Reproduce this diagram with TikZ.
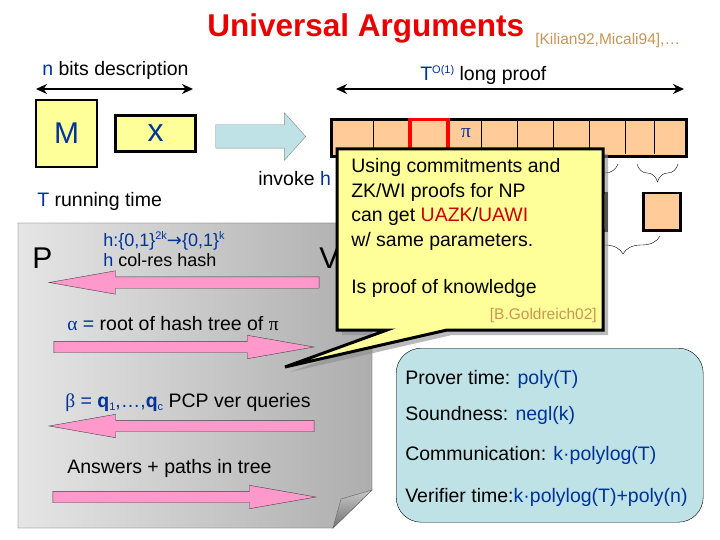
\documentclass[tikz,border=0pt]{standalone}
\usepackage{fontspec}
\setmainfont{Liberation Sans}
\newfontfamily\grkfont{Liberation Serif}
\newfontfamily\symfont{DejaVu Sans}
\usetikzlibrary{positioning, arrows.meta, shapes.arrows, decorations.pathreplacing, shadows}

\definecolor{ptblue}{RGB}{0,51,153}
\definecolor{titlered}{RGB}{235,0,0}
\definecolor{uared}{RGB}{204,0,0}
\definecolor{citeorange}{RGB}{200,150,85}
\definecolor{paleyellow}{RGB}{255,255,153}
\definecolor{prooforange}{RGB}{255,204,153}
\definecolor{paleblue}{RGB}{190,226,230}
\definecolor{arrowpink}{RGB}{255,153,204}

\newcommand{\supx}[1]{\raisebox{7pt}{\fontsize{11}{11}\selectfont #1}}
\newcommand{\subx}[1]{\raisebox{-3pt}{\fontsize{11}{11}\selectfont #1}}

\begin{document}
\begin{tikzpicture}[x=1pt, y=-1pt, >=stealth, semithick]
\tikzstyle{every node}=[font=\fontsize{19.5}{24}\selectfont, inner sep=0pt]
\tikzstyle{bluetxt}=[text=ptblue]
\tikzstyle{small}=[font=\fontsize{18}{20}\selectfont]
\tikzstyle{cite}=[text=citeorange, font=\fontsize{15.5}{16}\selectfont]
\tikzstyle{yellowbox}=[draw=black, line width=2.5pt, fill=paleyellow, text=ptblue, font=\fontsize{30}{30}\selectfont]
\tikzstyle{orangebox}=[draw=black, line width=2.5pt, fill=prooforange, minimum width=37pt, minimum height=37pt]
\tikzstyle{dimline}=[{Stealth[length=11pt,width=10pt]}-{Stealth[length=11pt,width=10pt]}, line width=2.5pt]
\tikzstyle{msg}=[single arrow, draw=black!75, thin, fill=arrowpink, single arrow tip angle=20, single arrow head extend=6pt, inner xsep=0pt, inner ysep=5.5pt]
\tikzstyle{hashbrace}=[thin, decorate, decoration={brace, mirror, amplitude=18pt}]
\tikzstyle{pagebox}=[draw=black!70, thin, left color=black!10, right color=black!32]
\tikzstyle{calloutbox}=[draw=black, line width=3pt, fill=paleyellow, drop shadow={shadow xshift=5pt, shadow yshift=-5pt, fill=black!45, opacity=.6}]

\fill[white] (0,0) rectangle (720,540);

\node[anchor=base west, text=titlered, font=\fontsize{31.5}{32}\selectfont\bfseries] (title) at (207,37) {Universal Arguments};
\node[cite, anchor=base west] (kilian) at (535,45) {[Kilian92,Micali94],…};

\node[anchor=base west] (nbits) at (42,76) {\textcolor{ptblue}{n} bits description};
\coordinate (nL) at (36,89);
\coordinate (nR) at (193,89);
\draw[dimline] (nL) -- (nR);
\node[anchor=base west] (longproof) at (420,81) {\textcolor{ptblue}{T\supx{O(1)}} long proof};
\coordinate (pL) at (336,89);
\coordinate (pR) at (684,89);
\draw[dimline] (pL) -- (pR);

\node[yellowbox, minimum width=61pt, minimum height=67pt] (M) at (66.5,133.5) {M};
\node[yellowbox, minimum width=80pt, minimum height=36pt, font=\fontsize{32}{32}\selectfont, right=16pt of M] (x) {x};
\node[single arrow, draw=black!45, thin, fill=paleblue, single arrow tip angle=96, single arrow head extend=12pt, inner xsep=0pt, inner ysep=11.5pt, minimum height=90pt, anchor=tip] (call) at (306,136.5) {};
\node[anchor=base west] (invoke) at (258,186) {invoke \textcolor{ptblue}{h}};
\node[anchor=base west] (Ttime) at (37,207) {\textcolor{ptblue}{T} running time};

\node[draw, line width=2.8pt, fill=prooforange, minimum width=355pt, minimum height=37pt, anchor=north west] (proof) at (330,118) {};
\foreach \x in {373,408,446,481,517,553,589,625,654}
  \draw[thin] (\x,119) -- (\x,154);
\node[draw=red, line width=3.5pt, minimum width=38pt, minimum height=42pt, anchor=north west] (query) at (408,118) {};
\node[bluetxt, font=\grkfont\fontsize{19.5}{24}\selectfont] (pi) at (466,133) {π};

\node[orangebox, anchor=north west] (hashA) at (568,192) {};
\node[orangebox, anchor=north west] (hashB) at (642,192) {};
\draw[hashbrace] (565,164) -- (618,164);
\draw[hashbrace] (637,164) -- (678,164);
\draw[hashbrace] (586,236) -- (660,236);

\shadedraw[pagebox] (18,223) -- (372,223) -- (372,490) -- (333,528) -- (18,528) -- cycle;
\shadedraw[draw=black!60, thin, top color=black!22, bottom color=black!55] (333,528) -- (341,499) -- (372,490) -- cycle;

\node[anchor=base west, font=\fontsize{30}{30}\selectfont] (P) at (32,268) {P};
\node[anchor=base west, font=\fontsize{30}{30}\selectfont] (V) at (319,268) {V};
\node[bluetxt, small, anchor=base west] (hashfn) at (103,247) {h:\{0,1\}\supx{2k}{\symfont →}\{0,1\}\supx{k}};
\node[small, anchor=base west] (colres) at (103,266) {\textcolor{ptblue}{h} col-res hash};
\node[msg, shape border rotate=180, minimum height=270pt, anchor=tip] (msgA) at (48,282.5) {};
\node[anchor=base west] (alpha) at (67,330) {\textcolor{ptblue}{{\grkfont α} =} root of hash tree of {\grkfont π}};
\node[msg, minimum height=260pt, anchor=tip] (msgB) at (315,347) {};
\node[anchor=base west] (beta) at (65,407) {\textcolor{ptblue}{{\grkfont β} = \textbf{q}\subx{1},…,\textbf{q}\subx{c}} PCP ver queries};
\node[msg, shape border rotate=180, minimum height=265pt, anchor=tip] (msgC) at (48,426) {};
\node[anchor=base west] (answers) at (67,473) {Answers + paths in tree};
\node[msg, minimum height=263pt, anchor=tip] (msgD) at (317,497) {};

\draw[calloutbox] (337,149) -- (603,149) -- (603,330) -- (447,330) -- (285,367) -- (387,330) -- (337,330) -- cycle;
\node[anchor=base west] (zk1) at (351,173) {Using commitments and};
\node[anchor=base west] (zk2) at (351,197) {ZK/WI proofs for NP};
\node[anchor=base west] (zk3) at (351,222) {can get \textcolor{uared}{UAZK}/\textcolor{uared}{UAWI}};
\node[anchor=base west] (zk4) at (351,246) {w/ same parameters.};
\node[anchor=base west] (zk5) at (351,293) {Is proof of knowledge};
\node[cite, anchor=base east] (goldreich) at (597,319) {[B.Goldreich02]};

\node[draw=black, thin, fill=paleblue, rounded corners=25pt, minimum width=307pt, minimum height=174pt, anchor=north west] (params) at (396,348) {};
\node[anchor=base west] (prover) at (405,384) {Prover time: \textcolor{ptblue}{poly(T)}};
\node[anchor=base west] (sound) at (405,420) {Soundness: \textcolor{ptblue}{negl(k)}};
\node[anchor=base west] (comm) at (405,460) {Communication: \textcolor{ptblue}{k·polylog(T)}};
\node[anchor=base west] (verif) at (405,502) {Verifier time:\textcolor{ptblue}{k·polylog(T)+poly(n)}};
\end{tikzpicture}
\end{document}
